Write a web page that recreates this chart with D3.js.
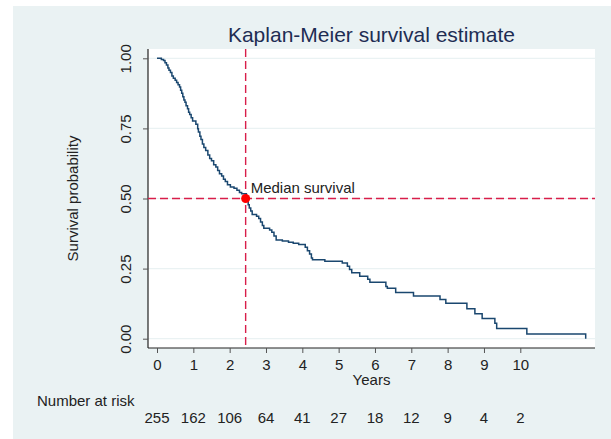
<!DOCTYPE html>
<html>
<head>
<meta charset="utf-8">
<script src="https://cdn.jsdelivr.net/npm/d3@7"></script>
<style>
  body { margin: 0; background: #ffffff; }
  text { font-family: "Liberation Sans", Arial, sans-serif; }
</style>
</head>
<body>
<div id="chart"></div>
<script>
//----------------------------------------------------------------
// data
var kmTime = [0, 0.12, 0.18, 0.22, 0.26, 0.30, 0.33, 0.37, 0.41, 0.45, 0.50, 0.54, 0.58, 0.62,
  0.65, 0.68, 0.71, 0.74, 0.77, 0.80, 0.84, 0.87, 0.90, 0.94, 0.98, 1.07, 1.12, 1.14, 1.18,
  1.21, 1.25, 1.29, 1.34, 1.40, 1.45, 1.50, 1.56, 1.62, 1.67, 1.72, 1.78, 1.83, 1.88, 1.94,
  2.02, 2.12, 2.20, 2.27, 2.33, 2.46, 2.48, 2.51, 2.54, 2.58, 2.62, 2.74, 2.80, 2.85, 2.90,
  2.94, 3.10, 3.16, 3.22, 3.28, 3.45, 3.62, 3.75, 3.90, 4.08, 4.14, 4.20, 4.25, 4.28, 4.62,
  5.10, 5.24, 5.30, 5.36, 5.58, 5.80, 5.86, 6.30, 6.34, 6.57, 7.06, 7.79, 7.95, 8.53, 8.75,
  8.95, 9.30, 9.35, 10.18, 11.80];
var kmSurv = [1, 0.996, 0.992, 0.984, 0.976, 0.965, 0.957, 0.949, 0.937, 0.929, 0.922, 0.914,
  0.906, 0.898, 0.886, 0.875, 0.863, 0.851, 0.843, 0.831, 0.820, 0.808, 0.800, 0.788, 0.776,
  0.765, 0.749, 0.737, 0.722, 0.710, 0.694, 0.682, 0.671, 0.655, 0.643, 0.635, 0.620, 0.612,
  0.600, 0.588, 0.580, 0.569, 0.561, 0.549, 0.541, 0.537, 0.529, 0.521, 0.517, 0.502, 0.490,
  0.478, 0.466, 0.455, 0.443, 0.437, 0.429, 0.416, 0.404, 0.394, 0.388, 0.380, 0.366, 0.352,
  0.348, 0.344, 0.340, 0.336, 0.326, 0.314, 0.302, 0.288, 0.282, 0.276, 0.270, 0.258, 0.247,
  0.235, 0.223, 0.212, 0.201, 0.186, 0.180, 0.165, 0.152, 0.140, 0.126, 0.107, 0.089, 0.072,
  0.055, 0.036, 0.017, 0];
var yearTicks = [0, 1, 2, 3, 4, 5, 6, 7, 8, 9, 10];
var atRisk = [255, 162, 106, 64, 41, 27, 18, 12, 9, 4, 2];
var survTicks = [0, 0.25, 0.5, 0.75, 1];
var medianTime = 2.44, medianSurv = 0.5;

//----------------------------------------------------------------
// svg
var largeur = 611, hauteur = 439;
var svg = d3.select("#chart")
  .append("svg")
  .attr("width", largeur)
  .attr("height", hauteur);

var plotLeft = 148, plotRight = 595, plotTop = 49, plotBottom = 348;

var x = d3.scaleLinear().domain([0, 10]).range([157, 520.3]);
var y = d3.scaleLinear().domain([0, 1]).range([338.7, 58.3]);

// backgrounds
svg.append("rect")
  .attr("x", 13).attr("y", 6)
  .attr("width", largeur - 13).attr("height", hauteur - 6)
  .attr("fill", "#eaf2f3");
svg.append("rect")
  .attr("x", plotLeft).attr("y", plotTop)
  .attr("width", plotRight - plotLeft).attr("height", plotBottom - plotTop)
  .attr("fill", "#ffffff");

// grid
svg.selectAll(".grid")
  .data(survTicks)
  .enter()
  .append("line")
  .attr("x1", plotLeft).attr("x2", plotRight)
  .attr("y1", function(d){ return y(d); })
  .attr("y2", function(d){ return y(d); })
  .attr("stroke", "#eaf2f3")
  .attr("stroke-width", 1.2);

// title
svg.append("text")
  .attr("x", (plotLeft + plotRight) / 2).attr("y", 42)
  .attr("text-anchor", "middle")
  .attr("font-size", 21)
  .attr("fill", "#1e2d53")
  .text("Kaplan-Meier survival estimate");

//----------------------------------------------------------------
// axes
var xAxis = d3.axisBottom(x).tickValues(yearTicks).tickSize(5).tickPadding(6);
var gx = svg.append("g")
  .attr("transform", "translate(0," + plotBottom + ")")
  .call(xAxis);
gx.select(".domain").attr("d", "M" + plotLeft + ",0H" + plotRight);

var yAxis = d3.axisLeft(y).tickValues(survTicks).tickSize(5)
  .tickFormat(d3.format(".2f"));
var gy = svg.append("g")
  .attr("transform", "translate(" + plotLeft + ",0)")
  .call(yAxis);
gy.select(".domain").attr("d", "M0," + plotTop + "V" + plotBottom);
gy.selectAll(".tick text")
  .attr("x", null).attr("dy", null)
  .attr("text-anchor", "middle")
  .attr("transform", "translate(-17,0) rotate(-90)");

svg.selectAll(".domain").attr("stroke", "#222").attr("stroke-width", 1.2);
svg.selectAll(".tick line").attr("stroke", "#555");
svg.selectAll(".tick text")
  .attr("font-family", "Liberation Sans, Arial, sans-serif")
  .attr("font-size", 15)
  .attr("fill", "#222");

// axis titles
svg.append("text")
  .attr("x", (plotLeft + plotRight) / 2).attr("y", 385)
  .attr("text-anchor", "middle")
  .attr("font-size", 15).attr("fill", "#222")
  .text("Years");
svg.append("text")
  .attr("transform", "translate(78," + (plotTop + plotBottom) / 2 + ") rotate(-90)")
  .attr("text-anchor", "middle")
  .attr("font-size", 15).attr("fill", "#222")
  .text("Survival probability");

//----------------------------------------------------------------
// median lines
svg.append("line")
  .attr("x1", plotLeft).attr("x2", plotRight)
  .attr("y1", y(medianSurv)).attr("y2", y(medianSurv))
  .attr("stroke", "#d81e4a").attr("stroke-width", 1.4)
  .attr("stroke-dasharray", "8,4");
svg.append("line")
  .attr("x1", x(medianTime)).attr("x2", x(medianTime))
  .attr("y1", plotTop).attr("y2", plotBottom)
  .attr("stroke", "#d81e4a").attr("stroke-width", 1.4)
  .attr("stroke-dasharray", "8,4");

// survival curve
var km = kmTime.map(function(t, i){ return [t, kmSurv[i]]; });
var line = d3.line()
  .x(function(d){ return x(d[0]); })
  .y(function(d){ return y(d[1]); })
  .curve(d3.curveStepAfter);
svg.append("path")
  .datum(km)
  .attr("d", line)
  .attr("fill", "none")
  .attr("stroke", "#1a476f")
  .attr("stroke-width", 1.5);

// median point + label
svg.append("circle")
  .attr("cx", x(medianTime)).attr("cy", y(medianSurv))
  .attr("r", 4.5)
  .attr("fill", "#ff0000");
svg.append("text")
  .attr("x", x(medianTime) + 5).attr("y", y(medianSurv) - 6)
  .attr("font-size", 15).attr("fill", "#222")
  .text("Median survival");

//----------------------------------------------------------------
// number at risk
svg.append("text")
  .attr("x", 37).attr("y", 406)
  .attr("font-size", 15).attr("fill", "#222")
  .text("Number at risk");
svg.selectAll(".risk")
  .data(atRisk)
  .enter()
  .append("text")
  .attr("x", function(d, i){ return x(yearTicks[i]); })
  .attr("y", 423)
  .attr("text-anchor", "middle")
  .attr("font-size", 15).attr("fill", "#222")
  .text(function(d){ return d; });
</script>
</body>
</html>
